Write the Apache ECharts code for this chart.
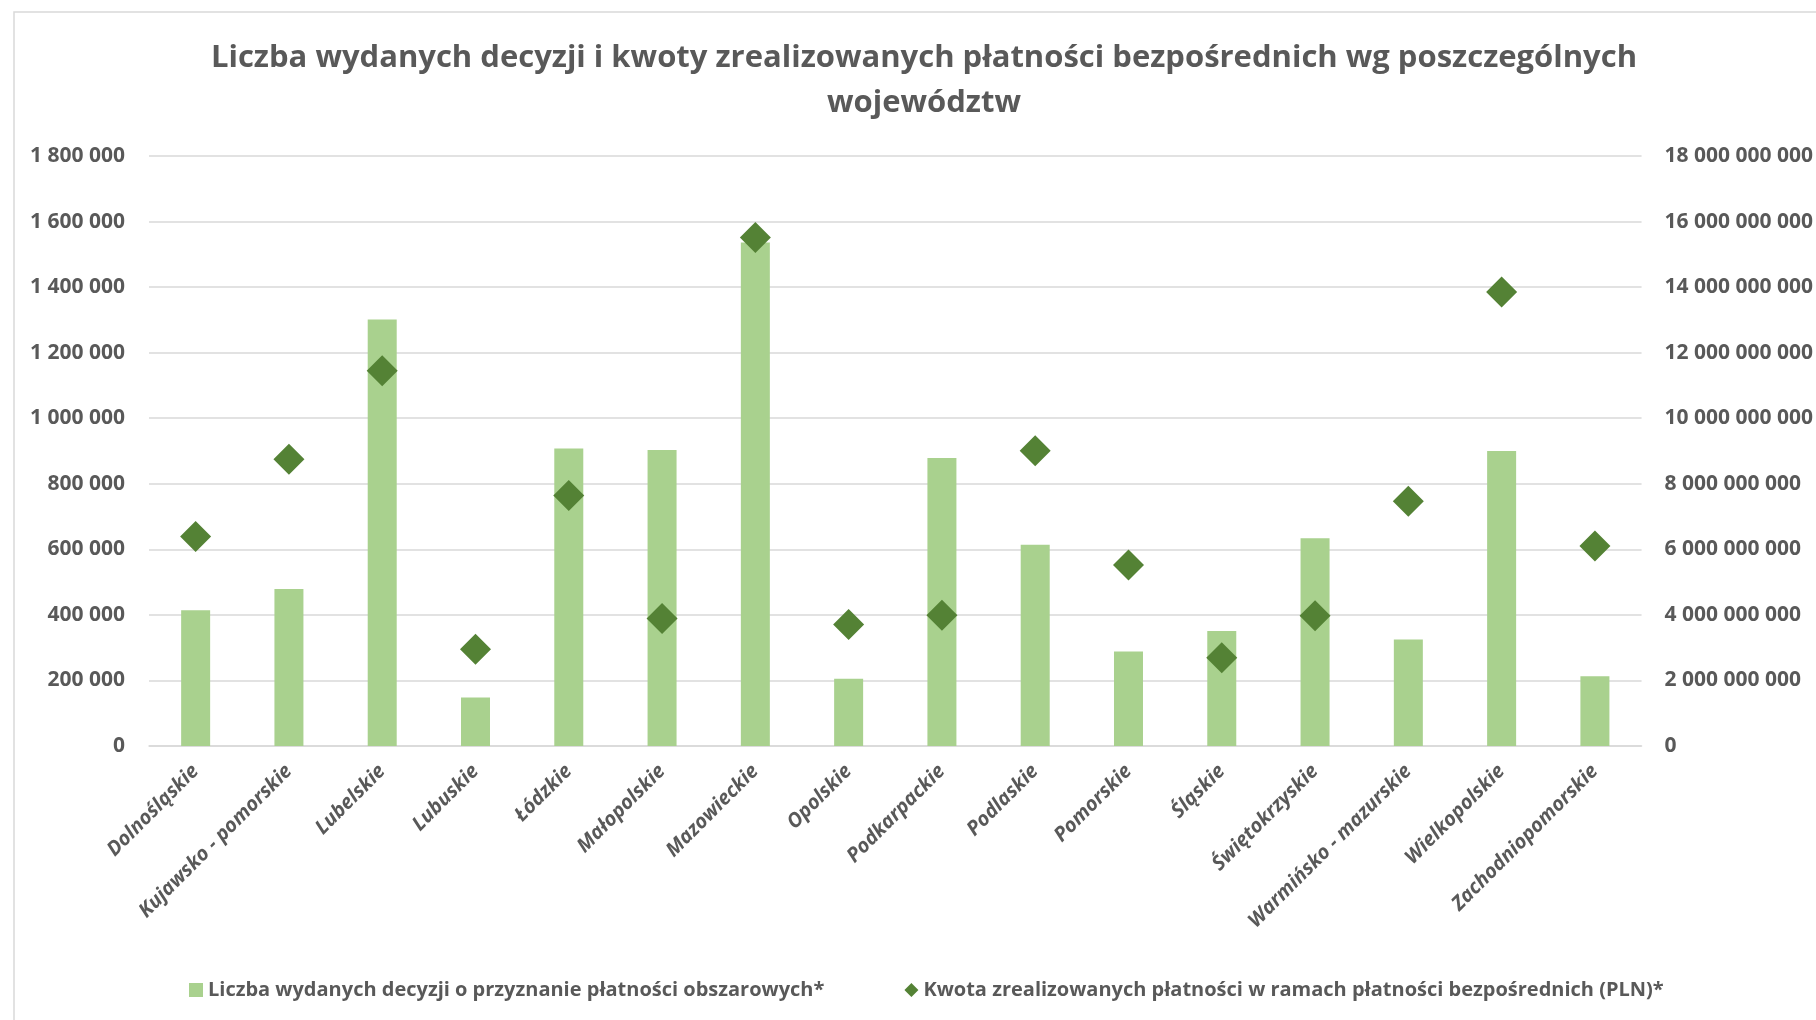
<!DOCTYPE html>
<html>
<head>
<meta charset="utf-8">
<script src="https://cdn.jsdelivr.net/npm/echarts@6/dist/echarts.min.js"></script>
<style>
html,body{margin:0;padding:0;background:#fff;}
#chart{width:1816px;height:1020px;}
</style>
</head>
<body>
<div id="chart"></div>
<script>
const titleText = 'Liczba wydanych decyzji i kwoty zrealizowanych płatności bezpośrednich wg poszczególnych\nwojewództw';
const categories = ['Dolnośląskie','Kujawsko - pomorskie','Lubelskie','Lubuskie','Łódzkie','Małopolskie','Mazowieckie','Opolskie','Podkarpackie','Podlaskie','Pomorskie','Śląskie','Świętokrzyskie','Warmińsko - mazurskie','Wielkopolskie','Zachodniopomorskie'];
const seriesNames = ['Liczba wydanych decyzji o przyznanie płatności obszarowych*','Kwota zrealizowanych płatności w ramach płatności bezpośrednich (PLN)*'];
const decisions = [414000, 479000, 1301000, 148000, 908000, 903000, 1536000, 205000, 879000, 614000, 288000, 351000, 634000, 325000, 900000, 213000];
const payments = [6390000000, 8750000000, 11450000000, 2950000000, 7640000000, 3890000000, 15510000000, 3710000000, 3990000000, 9010000000, 5520000000, 2690000000, 3970000000, 7470000000, 13850000000, 6100000000];
const leftAxisTicks = {min: 0, max: 1800000, interval: 200000};
const rightAxisTicks = {min: 0, max: 18000000000, interval: 2000000000};

const FONT = 'Open Sans';
const GRAY = '#595959';
const fmt = v => String(v).replace(/\B(?=(\d{3})+(?!\d))/g, ' ');

const chart = echarts.init(document.getElementById('chart'));
chart.setOption({
  animation: false,
  backgroundColor: '#fff',
  graphic: [{
    type: 'rect', silent: true, z: -1,
    shape: {x: 14, y: 12, width: 1900, height: 1100},
    style: {fill: 'none', stroke: '#d9d9d9', lineWidth: 1.5}
  }],
  title: {
    text: titleText,
    left: 919, top: 31, textAlign: 'center',
    textStyle: {fontFamily: FONT, fontWeight: 'bold', fontSize: 31, color: GRAY, lineHeight: 45}
  },
  legend: {
    left: 184, top: 975,
    itemWidth: 14, itemHeight: 14, itemGap: 80,
    textStyle: {fontFamily: FONT, fontWeight: 'bold', fontSize: 20, color: GRAY},
    data: [{name: seriesNames[0], icon: 'rect'}, {name: seriesNames[1], icon: 'diamond'}]
  },
  grid: {left: 149, right: 174, top: 156, bottom: 274, containLabel: false},
  xAxis: {
    type: 'category', data: categories,
    axisLine: {lineStyle: {color: '#d9d9d9', width: 1.5}},
    axisTick: {show: false},
    axisLabel: {interval: 0, rotate: 45, margin: 22, fontFamily: FONT, fontStyle: 'italic', fontWeight: 'bold', fontSize: 20, color: GRAY}
  },
  yAxis: [{
    type: 'value', min: leftAxisTicks.min, max: leftAxisTicks.max, interval: leftAxisTicks.interval,
    axisLine: {show: false}, axisTick: {show: false},
    splitLine: {lineStyle: {color: '#d9d9d9', width: 1.5}},
    axisLabel: {margin: 24, formatter: fmt, fontFamily: FONT, fontWeight: 'bold', fontSize: 21, color: GRAY}
  }, {
    type: 'value', min: rightAxisTicks.min, max: rightAxisTicks.max, interval: rightAxisTicks.interval,
    axisLine: {show: false}, axisTick: {show: false},
    splitLine: {show: false},
    axisLabel: {margin: 23, formatter: fmt, fontFamily: FONT, fontWeight: 'bold', fontSize: 21, color: GRAY}
  }],
  series: [{
    name: seriesNames[0], type: 'bar', yAxisIndex: 0, data: decisions,
    barWidth: 29, itemStyle: {color: '#a9d18e'}
  }, {
    name: seriesNames[1], type: 'scatter', yAxisIndex: 1, data: payments,
    symbol: 'diamond', symbolSize: 31, itemStyle: {color: '#548235', opacity: 1}, z: 3
  }]
});
</script>
</body>
</html>
